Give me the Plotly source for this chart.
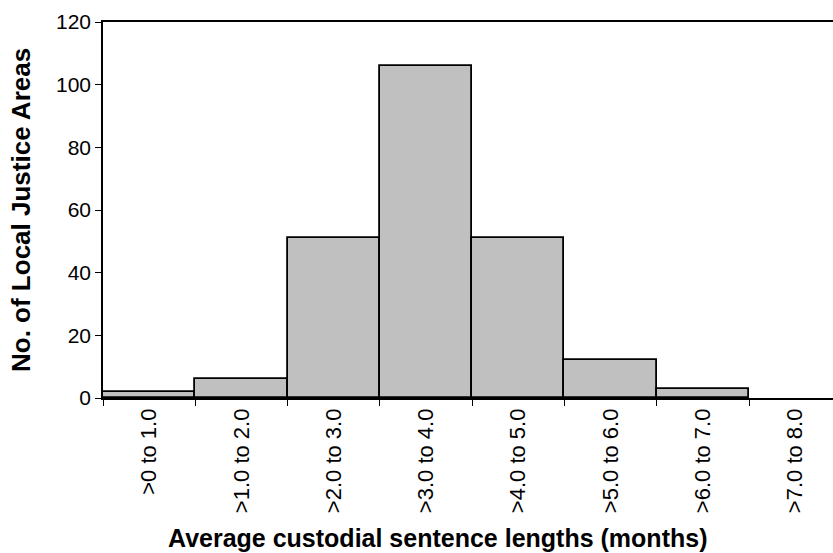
import plotly.graph_objects as go

# sentence length bands and counts of local justice areas
bands = [">0 to 1.0", ">1.0 to 2.0", ">2.0 to 3.0", ">3.0 to 4.0",
         ">4.0 to 5.0", ">5.0 to 6.0", ">6.0 to 7.0", ">7.0 to 8.0"]
counts = [2, 6, 51, 106, 51, 12, 3, 0]
y_ticks = [0, 20, 40, 60, 80, 100, 120]

font = "Liberation Sans, Arial, sans-serif"
W, H = 833, 553
L, T, B = 103, 22, 155

fig = go.Figure(
    go.Bar(
        x=bands,
        y=counts,
        marker=dict(
            color="#c0c0c0",
            # empty bins get no outline so the axis line stays thin
            line=dict(color="black", width=[1.8 if c else 0 for c in counts]),
        ),
        width=1,
    )
)

fig.update_layout(
    width=W,
    height=H,
    margin=dict(l=L, r=0, t=T, b=B),
    plot_bgcolor="white",
    paper_bgcolor="white",
    showlegend=False,
    bargap=0,
    font=dict(family=font, color="black"),
)

fig.update_xaxes(
    type="category",
    range=[-0.5, 7.41],
    automargin=False,
    tickson="boundaries",
    ticks="outside",
    ticklen=6,
    tickcolor="black",
    tickangle=-90,
    tickfont=dict(size=22),
    showline=True,
    linecolor="black",
    linewidth=1.5,
    mirror=True,
    showgrid=False,
)

fig.update_yaxes(
    range=[0, 120],
    automargin=False,
    tickvals=y_ticks,
    ticks="outside",
    ticklen=6,
    tickcolor="black",
    tickfont=dict(size=21),
    showline=True,
    linecolor="black",
    linewidth=1.5,
    showgrid=False,
    zeroline=False,
)

# axis titles placed as paper annotations
fig.add_annotation(
    text="<b>Average custodial sentence lengths (months)</b>",
    xref="paper", yref="paper",
    x=(437 - L) / (W - L), y=-(538 - (H - B)) / (H - T - B),
    showarrow=False, font=dict(size=25),
    xanchor="center", yanchor="middle",
)
fig.add_annotation(
    text="<b>No. of Local Justice Areas</b>",
    xref="paper", yref="paper",
    x=-(L - 21) / (W - L), y=(H - B - 210) / (H - T - B),
    showarrow=False, font=dict(size=26), textangle=-90,
    xanchor="center", yanchor="middle",
)

# drop the default page margin so the figure sits at the window's corner
fig.write_html(
    "out.html",
    config={"displayModeBar": False},
    post_script="document.body.style.margin='0';",
)
